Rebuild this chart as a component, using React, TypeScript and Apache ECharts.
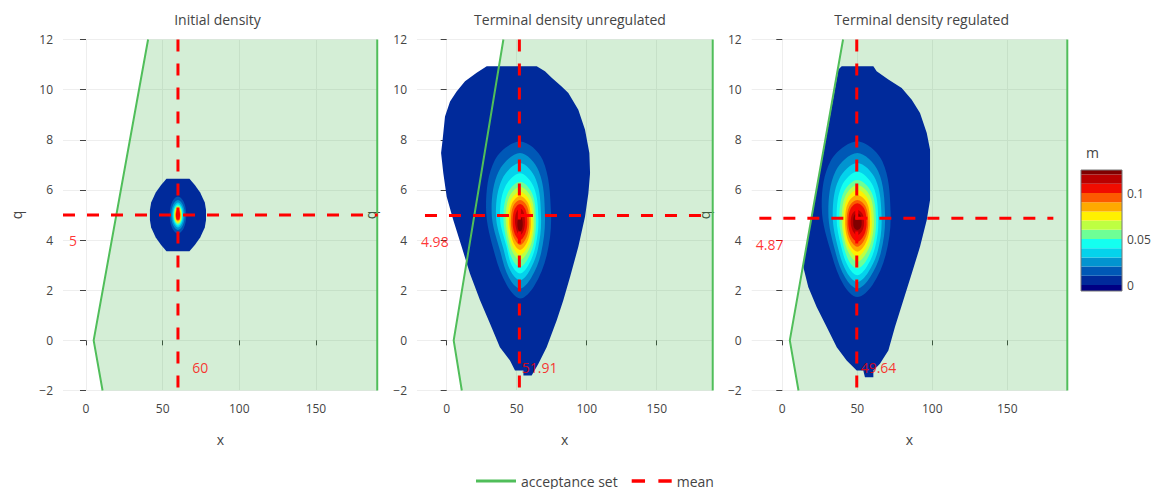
import React, { useEffect, useRef } from 'react';
import * as echarts from 'echarts';

const FONT = "'Open Sans', 'Noto Sans', sans-serif";
const INK = '#444';

// ---------- data ----------
const panelTitles = ['Initial density', 'Terminal density unregulated', 'Terminal density regulated'];
const xRanges = [[-15, 190.3], [-21.2, 189.7], [-20.4, 190]];
const xTicks = [0, 50, 100, 150];
const qRange = [-2, 12];
const qInterval = 2;

const meanX = [60, 51.91, 49.64];
const meanQ = [5, 4.98, 4.87];
const meanXText = ['60', '51.91', '49.64'];
const meanQText = ['5', '4.98', '4.87'];
const meanHLineX = [[-15, 190.3], [-15.5, 182], [-15.3, 180.7]];

const acceptanceLeft = [[10.8, -2], [5, 0], [40.5, 12]];
const acceptanceRight = [[190, 12], [190, -2]];
const acceptanceRegion = [[10.8, -2], [5, 0], [40.5, 12], [190, 12], [190, -2]];

const levels = [0, 0.01, 0.02, 0.03, 0.04, 0.05, 0.06, 0.07, 0.08, 0.09, 0.1, 0.11, 0.12];
const colorbarRange = [-0.0065, 0.125];
const colorbarTicks = [0, 0.05, 0.1];
const belowZeroColor = 'rgb(0,0,131)';
const bandColors = [
  'rgb(0,42,155)', 'rgb(0,88,182)', 'rgb(2,148,208)', 'rgb(4,210,236)', 'rgb(20,255,240)',
  'rgb(110,255,150)', 'rgb(190,255,66)', 'rgb(255,240,0)', 'rgb(254,170,0)', 'rgb(252,90,0)',
  'rgb(240,12,0)', 'rgb(185,0,0)', 'rgb(128,0,0)',
];

// contour rings (x, q) for levels 0, 0.01, ..., 0.12
const initialContours = [
  [[52.5, 6.45], [67.5, 6.45], [71, 6.2], [74.5, 5.9], [77.5, 5.5], [78.3, 5.2], [78.3, 4.8], [77.5, 4.5], [74.5, 4.1], [71, 3.8], [67.5, 3.55], [52.5, 3.55], [49, 3.8], [45.5, 4.1], [42.5, 4.5], [41.7, 4.8], [41.7, 5.2], [42.5, 5.5], [45.5, 5.9], [49, 6.2]],
  [[60, 5.74], [63.8, 5.52], [65.4, 5], [63.8, 4.48], [60, 4.26], [56.2, 4.48], [54.6, 5], [56.2, 5.52]],
  [[60, 5.6], [63.1, 5.42], [64.4, 5], [63.1, 4.58], [60, 4.4], [56.9, 4.58], [55.6, 5], [56.9, 5.42]],
  [[60, 5.5], [62.5, 5.35], [63.6, 5], [62.5, 4.65], [60, 4.5], [57.5, 4.65], [56.4, 5], [57.5, 5.35]],
  [[60, 5.43], [62.12, 5.3], [63, 5], [62.12, 4.7], [60, 4.57], [57.88, 4.7], [57, 5], [57.88, 5.3]],
  [[60, 5.38], [61.91, 5.27], [62.7, 5], [61.91, 4.73], [60, 4.62], [58.09, 4.73], [57.3, 5], [58.09, 5.27]],
  [[60, 5.34], [61.7, 5.24], [62.4, 5], [61.7, 4.76], [60, 4.66], [58.3, 4.76], [57.6, 5], [58.3, 5.24]],
  [[60, 5.3], [61.48, 5.21], [62.1, 5], [61.48, 4.79], [60, 4.7], [58.52, 4.79], [57.9, 5], [58.52, 5.21]],
  [[60, 5.26], [61.27, 5.18], [61.8, 5], [61.27, 4.82], [60, 4.74], [58.73, 4.82], [58.2, 5], [58.73, 5.18]],
  [[60, 5.22], [61.06, 5.16], [61.5, 5], [61.06, 4.84], [60, 4.78], [58.94, 4.84], [58.5, 5], [58.94, 5.16]],
  [[60, 5.18], [60.85, 5.13], [61.2, 5], [60.85, 4.87], [60, 4.82], [59.15, 4.87], [58.8, 5], [59.15, 5.13]],
  [[60, 5.13], [60.64, 5.09], [60.9, 5], [60.64, 4.91], [60, 4.87], [59.36, 4.91], [59.1, 5], [59.36, 5.09]],
  [[60, 5.08], [60.35, 5.06], [60.5, 5], [60.35, 4.94], [60, 4.92], [59.65, 4.94], [59.5, 5], [59.65, 5.06]],
];

const unregulatedContours = [
  [[28.6, 10.93], [64.3, 10.93], [70.2, 10.73], [75, 10.47], [82.1, 10.13], [86.9, 9.87], [94, 9.2], [98.8, 8.4], [101.9, 7.47], [102.4, 6.67], [101.2, 5.87], [98.8, 4.93], [94, 3.73], [88.1, 2.53], [83.3, 1.6], [78.6, 0.8], [71.4, -0.27], [65.5, -0.93], [60.7, -1.4], [54.8, -1.4], [54.8, -1.2], [48.8, -1.2], [45.2, -0.8], [38, -0.27], [30.9, 0.67], [23.8, 1.6], [16.6, 2.67], [10.7, 3.73], [4.7, 4.8], [0, 5.73], [-2.4, 6.67], [-4, 7.47], [-2.9, 8], [-1.2, 8.93], [2.4, 9.53], [7.1, 9.93], [13.1, 10.33], [21.4, 10.67]],
  [[52.4, 7.93], [68.5, 7.2], [74.5, 5.1], [71.5, 3.4], [62.3, 2.15], [52.4, 1.67], [43, 2.2], [34.5, 3.4], [28.1, 5.3], [34.5, 7.2]],
  [[52.4, 7.47], [65.8, 6.75], [70.2, 5.0], [67.5, 3.5], [60.4, 2.5], [52.4, 2.07], [44.5, 2.5], [38.5, 3.5], [32.1, 5.1], [37.2, 6.75]],
  [[52.4, 7.07], [63.7, 6.42], [67.4, 4.9], [65.2, 3.65], [59.2, 2.78], [52.4, 2.4], [45.5, 2.78], [40.5, 3.65], [35.2, 5.0], [39.5, 6.42]],
  [[52.4, 6.67], [62.2, 6.12], [65.5, 4.85], [63.5, 3.76], [58.3, 3.0], [52.4, 2.67], [46.5, 3.0], [42.6, 3.76], [38.1, 4.9], [41.7, 6.12]],
  [[52.4, 6.33], [61, 5.87], [63.8, 4.8], [62.1, 3.86], [57.5, 3.21], [52.4, 2.93], [47.1, 3.21], [43.3, 3.86], [40.5, 4.85], [43.5, 5.87]],
  [[52.4, 6.13], [60.1, 5.73], [62.6, 4.8], [61.1, 4.0], [57, 3.44], [52.4, 3.2], [47.8, 3.44], [44.3, 4.0], [42.1, 4.85], [44.7, 5.73]],
  [[52.4, 5.93], [59.2, 5.58], [61.4, 4.75], [60.1, 4.07], [56.4, 3.6], [52.4, 3.4], [48.4, 3.6], [45.3, 4.07], [43.5, 4.8], [45.7, 5.58]],
  [[52.4, 5.76], [58.3, 5.46], [60.2, 4.75], [59.0, 4.17], [55.9, 3.77], [52.4, 3.6], [48.9, 3.77], [46.1, 4.17], [44.7, 4.8], [46.6, 5.46]],
  [[52.4, 5.6], [57.4, 5.35], [59, 4.75], [58, 4.27], [55.4, 3.94], [52.4, 3.8], [49.5, 3.94], [46.9, 4.27], [45.9, 4.8], [47.5, 5.35]],
  [[52.4, 5.44], [56.3, 5.22], [57.6, 4.72], [56.8, 4.36], [54.7, 4.1], [52.4, 4.0], [50, 4.1], [47.9, 4.36], [47.1, 4.75], [48.4, 5.22]],
  [[52.4, 5.27], [55, 5.1], [55.9, 4.72], [55.4, 4.46], [54, 4.27], [52.4, 4.2], [50.7, 4.27], [49.6, 4.46], [48.8, 4.75], [49.7, 5.1]],
  [[52.4, 4.93], [53.8, 4.85], [54.3, 4.65], [53.9, 4.45], [52.4, 4.33], [50.9, 4.45], [50.5, 4.65], [51, 4.85]],
];

const regulatedContours = [
  [[39.6, 10.93], [60.7, 10.93], [62.9, 10.73], [70.7, 10.4], [79.6, 10.07], [86.3, 9.6], [91.8, 9.07], [96.3, 8.27], [98.5, 7.6], [98.5, 5.6], [96.3, 4.8], [91.8, 3.73], [86.3, 2.67], [80.7, 1.6], [75.1, 0.53], [70.7, -0.4], [65.1, -0.93], [60.7, -1.2], [60.7, -1.47], [55.1, -1.47], [54, -1.2], [49.6, -1.2], [42.9, -0.8], [36.3, -0.27], [29.6, 0.53], [22.9, 1.33], [17.3, 2.13], [14, 2.93], [13.9, 3.0], [37.4, 10.8]],
  [[50, 7.93], [66.6, 7.15], [72.2, 5.1], [68.9, 3.4], [60, 2.2], [50, 1.73], [41, 2.2], [33, 3.4], [26.3, 5.3], [32.2, 7.15]],
  [[50, 7.47], [63.9, 6.75], [68.5, 5.0], [65.7, 3.5], [58.3, 2.5], [50, 2.07], [42, 2.5], [35.5, 3.5], [30.7, 5.1], [35.5, 6.75]],
  [[50, 7.07], [62.2, 6.42], [66.2, 4.9], [63.8, 3.6], [57.3, 2.72], [50, 2.33], [43, 2.72], [37.5, 3.6], [33.6, 5.0], [37.7, 6.42]],
  [[50, 6.73], [60.5, 6.16], [64, 4.85], [61.9, 3.72], [56.3, 2.94], [50, 2.6], [44, 2.94], [39.3, 3.72], [36.2, 4.9], [39.6, 6.16]],
  [[50, 6.4], [59.4, 5.92], [62.5, 4.8], [60.6, 3.84], [55.6, 3.15], [50, 2.87], [44.6, 3.15], [40.5, 3.84], [38, 4.85], [41, 5.92]],
  [[50, 6.2], [58.3, 5.78], [61.1, 4.8], [59.4, 3.97], [55, 3.38], [50, 3.13], [45.3, 3.38], [41.4, 3.97], [39.6, 4.85], [42.2, 5.78]],
  [[50, 6.0], [57.2, 5.63], [59.6, 4.75], [58.2, 4.04], [54.3, 3.55], [50, 3.33], [45.8, 3.55], [42.1, 4.04], [40.7, 4.8], [43, 5.63]],
  [[50, 5.8], [56.4, 5.49], [58.5, 4.75], [57.2, 4.14], [53.8, 3.7], [50, 3.53], [46.3, 3.7], [43, 4.14], [41.8, 4.8], [43.9, 5.49]],
  [[50, 5.6], [55.5, 5.34], [57.3, 4.72], [56.2, 4.22], [53.3, 3.87], [50, 3.73], [46.8, 3.87], [44, 4.22], [42.9, 4.75], [44.7, 5.34]],
  [[50, 5.47], [54.6, 5.25], [56.2, 4.72], [55.3, 4.32], [52.8, 4.04], [50, 3.93], [47.3, 4.04], [44.9, 4.32], [44, 4.75], [45.5, 5.25]],
  [[50, 5.2], [53.4, 5.05], [54.5, 4.7], [53.9, 4.45], [52, 4.27], [50, 4.2], [48, 4.27], [46.4, 4.45], [45.6, 4.72], [46.7, 5.05]],
  [[50, 5.07], [52.2, 4.97], [52.9, 4.72], [52.3, 4.5], [50, 4.4], [47.8, 4.5], [47.3, 4.72], [47.8, 4.97]],
];

const panelContours = [initialContours, unregulatedContours, regulatedContours];

// ---------- layout ----------
const gridBoxes = [
  { left: 63, width: 314.7 },
  { left: 417, width: 295.3 },
  { left: 751.7, width: 315.6 },
];
const titleCenters = [212.5, 565, 916.7];
const GREEN_LINE = 'rgb(80,190,90)';
const GREEN_FILL = 'rgba(40,170,50,0.2)';
const RED = 'rgb(255,0,0)';
const RING_SMOOTH = 0.35;

function buildOption() {
  const grids: any[] = gridBoxes.map((g) => ({ left: g.left, width: g.width, top: 39.5, height: 351 }));
  grids.push({ left: 1081, top: 170, width: 41, height: 121 });

  const xAxes: any[] = [];
  const yAxes: any[] = [];
  const series: any[] = [];

  for (let p = 0; p < 3; p++) {
    xAxes.push({
      gridIndex: p, type: 'value', min: xRanges[p][0], max: xRanges[p][1],
      offset: 2,
      axisLine: { show: false },
      axisTick: { show: true, length: 5, customValues: xTicks, lineStyle: { color: INK } },
      axisLabel: { customValues: xTicks, color: INK, fontSize: 12, fontFamily: FONT, margin: 10 },
      splitLine: { show: true, customValues: xTicks, lineStyle: { color: '#eee', width: 1 } },
      name: 'x', nameLocation: 'middle', nameGap: 40,
      nameTextStyle: { color: INK, fontSize: 14, fontFamily: FONT },
    });
    yAxes.push({
      gridIndex: p, type: 'value', min: qRange[0], max: qRange[1], interval: qInterval,
      offset: 2,
      axisLine: { show: false },
      axisTick: { show: true, length: 6, lineStyle: { color: INK } },
      axisLabel: {
        color: INK, fontSize: 12, fontFamily: FONT, margin: 8,
        formatter: (v: number) => (v < 0 ? '\u2212' + Math.abs(v) : String(v)),
      },
      splitLine: { show: true, lineStyle: { color: '#eee', width: 1 } },
      name: 'q', nameLocation: 'middle', nameGap: 38,
      nameTextStyle: { color: INK, fontSize: 14, fontFamily: FONT },
    });

    // acceptance set fill
    series.push({
      type: 'custom', name: 'acceptance fill', xAxisIndex: p, yAxisIndex: p, silent: true,
      data: [[acceptanceRegion[0][0], acceptanceRegion[0][1]]],
      renderItem: (params: any, api: any) => ({
        type: 'polygon',
        shape: { points: acceptanceRegion.map((pt) => api.coord(pt)) },
        style: { fill: GREEN_FILL, stroke: 'none' },
      }),
    });
    // acceptance set boundary
    series.push({
      type: 'line', name: 'acceptance set', xAxisIndex: p, yAxisIndex: p, silent: true,
      data: acceptanceLeft, symbol: 'none', lineStyle: { color: GREEN_LINE, width: 2 },
      itemStyle: { color: GREEN_LINE },
    });
    series.push({
      type: 'line', name: 'acceptance set', xAxisIndex: p, yAxisIndex: p, silent: true,
      data: acceptanceRight, symbol: 'none', lineStyle: { color: GREEN_LINE, width: 2 },
      itemStyle: { color: GREEN_LINE },
    });
    // density contours
    const rings = panelContours[p];
    series.push({
      type: 'custom', name: 'density', xAxisIndex: p, yAxisIndex: p, silent: true,
      data: rings.map((r, i) => [r[0][0], r[0][1], levels[i]]),
      renderItem: (params: any, api: any) => {
        const i = params.dataIndex;
        return {
          type: 'polygon',
          shape: { points: rings[i].map((pt) => api.coord(pt)), smooth: i === 0 ? 0 : RING_SMOOTH },
          style: { fill: bandColors[i], stroke: 'none' },
        };
      },
    });
    // mean lines
    series.push({
      type: 'line', name: 'mean', xAxisIndex: p, yAxisIndex: p, silent: true,
      data: [[meanX[p], qRange[1]], [meanX[p], qRange[0]]], symbol: 'none',
      lineStyle: { color: RED, width: 3, type: [12, 12] }, itemStyle: { color: RED },
    });
    series.push({
      type: 'line', name: 'mean', xAxisIndex: p, yAxisIndex: p, silent: true,
      data: [[meanHLineX[p][0], meanQ[p]], [meanHLineX[p][1], meanQ[p]]], symbol: 'none',
      lineStyle: { color: RED, width: 3, type: [12, 12] }, itemStyle: { color: RED },
    });
    // mean labels
    series.push({
      type: 'scatter', name: 'mean labels', xAxisIndex: p, yAxisIndex: p, silent: true,
      symbolSize: 0,
      data: [
        { value: [-8.5, meanQ[p] - 1.03], label: { formatter: meanQText[p] } },
        { value: [meanX[p] + 14.5, -1.08], label: { formatter: meanXText[p] } },
      ],
      label: { show: true, position: 'inside', color: RED, fontSize: 14, fontFamily: FONT },
    });
  }

  // colorbar
  const cbBounds: number[][] = [[colorbarRange[0], levels[0]]];
  for (let i = 0; i < levels.length; i++) {
    cbBounds.push([levels[i], i + 1 < levels.length ? levels[i + 1] : colorbarRange[1]]);
  }
  const cbColors = [belowZeroColor, ...bandColors];
  xAxes.push({ gridIndex: 3, type: 'value', min: 0, max: 1, show: false });
  yAxes.push({
    gridIndex: 3, type: 'value', min: colorbarRange[0], max: colorbarRange[1], position: 'right',
    axisLine: { show: false },
    axisTick: { show: true, length: 4, customValues: colorbarTicks, lineStyle: { color: INK } },
    axisLabel: { customValues: colorbarTicks, color: INK, fontSize: 12, fontFamily: FONT, margin: 5 },
    splitLine: { show: false },
  });
  series.push({
    type: 'custom', name: 'colorbar', xAxisIndex: 3, yAxisIndex: 3, silent: true,
    data: cbBounds.map((b) => [0.5, (b[0] + b[1]) / 2]),
    renderItem: (params: any, api: any) => {
      const b = cbBounds[params.dataIndex];
      const p0 = api.coord([0, b[1]]);
      const p1 = api.coord([1, b[0]]);
      return {
        type: 'rect',
        shape: { x: p0[0], y: p0[1], width: p1[0] - p0[0], height: p1[1] - p0[1] },
        style: { fill: cbColors[params.dataIndex], stroke: 'none' },
      };
    },
  });
  series.push({
    type: 'custom', name: 'colorbar frame', xAxisIndex: 3, yAxisIndex: 3, silent: true, z: 5,
    data: [[0.5, 0.05]],
    renderItem: (params: any, api: any) => {
      const p0 = api.coord([0, colorbarRange[1]]);
      const p1 = api.coord([1, colorbarRange[0]]);
      return {
        type: 'rect',
        shape: { x: p0[0], y: p0[1], width: p1[0] - p0[0], height: p1[1] - p0[1] },
        style: { fill: 'none', stroke: '#777', lineWidth: 1 },
      };
    },
  });

  const titles: any[] = panelTitles.map((t, i) => ({
    text: t, left: titleCenters[i], top: 7, textAlign: 'center',
    textStyle: { color: INK, fontSize: 14, fontWeight: 'normal', fontFamily: FONT },
  }));
  titles.push({
    text: 'm', left: 1081, top: 140,
    textStyle: { color: INK, fontSize: 14, fontWeight: 'normal', fontFamily: FONT },
  });

  return {
    animation: false,
    backgroundColor: '#fff',
    textStyle: { fontFamily: FONT },
    title: titles,
    legend: {
      data: [
        { name: 'acceptance set', icon: 'path://M0,0h40v3h-40z' },
        { name: 'mean', icon: 'path://M0,0h12v3h-12z M24,0h12v3h-12z' },
      ],
      left: 471, top: 469, itemWidth: 40, itemHeight: 12, itemGap: 14,
      selectedMode: false,
      textStyle: { color: INK, fontSize: 14, fontFamily: FONT },
    },
    grid: grids,
    xAxis: xAxes,
    yAxis: yAxes,
    series,
  };
}

export default function App() {
  const ref = useRef<HTMLDivElement>(null);
  useEffect(() => {
    document.body.style.margin = '0';
    if (!ref.current) return;
    const chart = echarts.init(ref.current, undefined, { renderer: 'svg' });
    chart.setOption(buildOption() as any);
    return () => chart.dispose();
  }, []);
  return <div ref={ref} style={{ position: 'absolute', left: 0, top: 0, width: 1157, height: 489 }} />;
}
